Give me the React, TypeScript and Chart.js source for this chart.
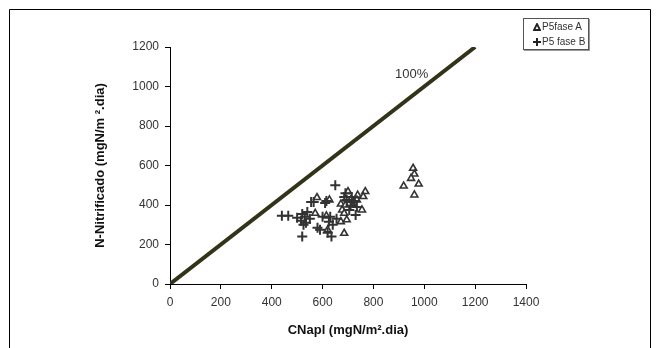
import React, { useEffect, useRef } from "react";
import { Chart, registerables } from "chart.js";

Chart.register(...registerables);

const xTicks = [0, 200, 400, 600, 800, 1000, 1200, 1400];
const yTicks = [0, 200, 400, 600, 800, 1000, 1200];

const faseAX = [578, 571, 627, 620, 615, 685, 672, 695, 672, 677, 700, 710, 738, 755, 768, 760, 735, 685, 690, 720, 956, 961, 948, 919, 978, 961];
const faseAY = [438, 358, 426, 274, 345, 257, 316, 325, 405, 375, 468, 425, 450, 375, 468, 443, 425, 358, 400, 400, 586, 557, 535, 496, 506, 451];

const faseBX = [440, 465, 500, 515, 520, 530, 535, 540, 525, 520, 555, 565, 550, 580, 590, 610, 615, 600, 630, 625, 635, 640, 650, 655, 690, 685, 695, 715, 720, 735, 730, 705, 710, 725, 620];
const faseBY = [345, 345, 335, 320, 355, 340, 310, 365, 300, 240, 415, 415, 330, 285, 275, 410, 420, 340, 340, 315, 240, 300, 500, 330, 460, 440, 425, 440, 415, 390, 350, 375, 395, 420, 260];

const lineX = [0, 1200];
const lineY = [0, 1200];

const labelA = "P5fase A";
const labelB = "P5 fase B";
const lineLabel = "100%";

const FONT = "'Liberation Sans', Arial, Helvetica, sans-serif";

export default function App() {
  const ref = useRef<HTMLCanvasElement | null>(null);

  useEffect(() => {
    document.body.style.margin = "0";
    const canvas = ref.current;
    if (!canvas) return;

    const framePlugin = {
      id: "frame",
      afterDraw(chart: any) {
        const ctx = chart.ctx;
        ctx.save();
        ctx.strokeStyle = "#000";
        ctx.lineWidth = 1;
        ctx.beginPath();
        ctx.moveTo(9.5, 348);
        ctx.lineTo(9.5, 9.5);
        ctx.lineTo(650.5, 9.5);
        ctx.lineTo(650.5, 348);
        ctx.stroke();
        const xs = chart.scales.x;
        const ys = chart.scales.y;
        ctx.fillStyle = "#333";
        ctx.font = `13px ${FONT}`;
        ctx.textAlign = "center";
        ctx.textBaseline = "middle";
        ctx.fillText(lineLabel, xs.getPixelForValue(950), ys.getPixelForValue(1062));
        ctx.restore();
      },
    };

    const chart = new Chart(canvas, {
      type: "scatter",
      data: {
        datasets: [
          {
            label: "100%",
            data: lineX.map((x, i) => ({ x, y: lineY[i] })),
            showLine: true,
            borderColor: "#33331a",
            borderWidth: 4,
            pointRadius: 0,
            order: 0,
          },
          {
            label: labelA,
            data: faseAX.map((x, i) => ({ x, y: faseAY[i] })),
            pointStyle: "triangle",
            pointRadius: 4,
            borderColor: "#333",
            backgroundColor: "#fff",
            pointBorderWidth: 1.6,
            order: 2,
          },
          {
            label: labelB,
            data: faseBX.map((x, i) => ({ x, y: faseBY[i] })),
            pointStyle: "cross",
            pointRadius: 5,
            borderColor: "#333",
            backgroundColor: "#333",
            pointBorderWidth: 2,
            order: 1,
          },
        ],
      },
      options: {
        responsive: false,
        animation: false,
        layout: { padding: { top: 47, right: 133, left: 0, bottom: 0 } },
        plugins: {
          legend: { display: false },
          tooltip: { enabled: false },
        },
        scales: {
          x: {
            type: "linear",
            min: 0,
            max: 1400,
            afterFit: (s: any) => {
              s.height = 64;
            },
            afterBuildTicks: (s: any) => {
              s.ticks = xTicks.map((v) => ({ value: v }));
            },
            ticks: {
              color: "#333",
              font: { family: FONT, size: 12 },
              padding: 6,
              callback: (v: any) => String(v),
            },
            grid: {
              drawOnChartArea: false,
              drawTicks: true,
              tickLength: 5,
              color: "#000",
            },
            border: { color: "#000", width: 1 },
            title: {
              display: true,
              text: "CNapl (mgN/m².dia)",
              color: "#111",
              font: { family: FONT, size: 13, weight: "bold" },
              padding: { top: 0, bottom: 10 },
            },
          },
          y: {
            type: "linear",
            min: 0,
            max: 1200,
            afterFit: (s: any) => {
              s.width = 170;
            },
            afterBuildTicks: (s: any) => {
              s.ticks = yTicks.map((v) => ({ value: v }));
            },
            ticks: {
              color: "#333",
              font: { family: FONT, size: 12 },
              padding: 6,
              callback: (v: any) => String(v),
            },
            grid: {
              drawOnChartArea: false,
              drawTicks: true,
              tickLength: 5,
              color: "#000",
            },
            border: { color: "#000", width: 1 },
            title: {
              display: true,
              text: "N-Nitrificado (mgN/m ².dia)",
              color: "#111",
              font: { family: FONT, size: 13, weight: "bold" },
              padding: { top: 93, bottom: 0 },
            },
          },
        },
      },
      plugins: [framePlugin],
    } as any);

    return () => chart.destroy();
  }, []);

  return (
    <div style={{ position: "relative", width: 659, height: 348 }}>
      <canvas ref={ref} width={659} height={348} style={{ display: "block" }} />
      <div
        style={{
          position: "absolute",
          left: 523,
          top: 18,
          width: 66,
          height: 32,
          border: "1px solid #555",
          boxShadow: "1px 1px 0 #999",
          background: "#fff",
          fontFamily: FONT,
          fontSize: 10,
          color: "#333",
          lineHeight: "16px",
          boxSizing: "border-box",
          paddingLeft: 9,
          paddingTop: 0,
        }}
      >
        <div style={{ display: "flex", alignItems: "center", height: 15 }}>
          <svg width="8" height="8" style={{ marginRight: 1 }}>
            <polygon points="4,1 7,7 1,7" fill="#fff" stroke="#222" strokeWidth="1.8" />
          </svg>
          <span>{labelA}</span>
        </div>
        <div style={{ display: "flex", alignItems: "center", height: 15 }}>
          <svg width="8" height="8" style={{ marginRight: 1 }}>
            <path d="M4 0 V8 M0 4 H8" stroke="#222" strokeWidth="2" />
          </svg>
          <span>{labelB}</span>
        </div>
      </div>
    </div>
  );
}
